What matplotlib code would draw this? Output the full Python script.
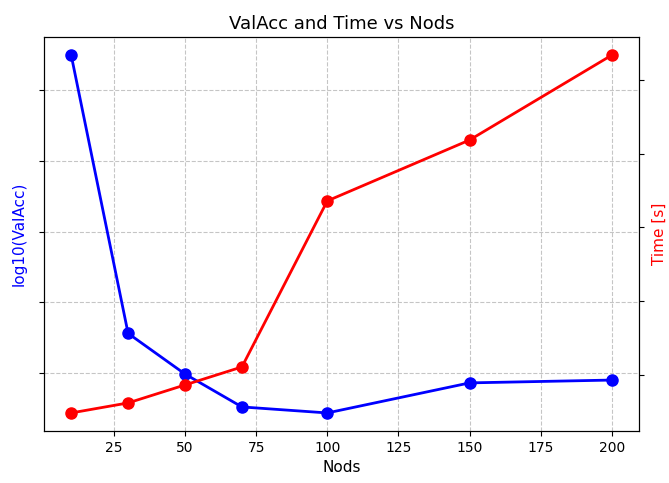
import matplotlib
matplotlib.use("Agg")
import matplotlib.pyplot as plt

# Node counts and the two measured series
nods = [10, 30, 50, 70, 100, 150, 200]
log_valacc = [-0.101, -0.888, -1.003, -1.096, -1.113, -1.028, -1.020]
time_s = [242, 310, 432, 554, 1680, 2093, 2669]

fig, ax1 = plt.subplots(figsize=(6.69, 4.83), dpi=100)

ax1.plot(nods, log_valacc, "o-", color="blue", lw=2, ms=8)
ax1.set_xlabel("Nods", fontsize=11)
ax1.set_ylabel("log10(ValAcc)", color="blue", fontsize=11, labelpad=9)
ax1.set_yticks([-1.0, -0.8, -0.6, -0.4, -0.2])
ax1.tick_params(axis="y", labelleft=False)
ax1.grid(True, linestyle="--", color="gray", alpha=0.45)

ax2 = ax1.twinx()
ax2.plot(nods, time_s, "o-", color="red", lw=2, ms=8)
ax2.set_ylabel("Time [s]", color="red", fontsize=11, labelpad=6)
ax2.set_yticks([500, 1000, 1500, 2000, 2500])
ax2.tick_params(axis="y", labelright=False)

ax1.set_title("ValAcc and Time vs Nods", fontsize=13)
fig.subplots_adjust(left=0.066, right=0.955, top=0.923, bottom=0.108)
fig.savefig("out.png")
